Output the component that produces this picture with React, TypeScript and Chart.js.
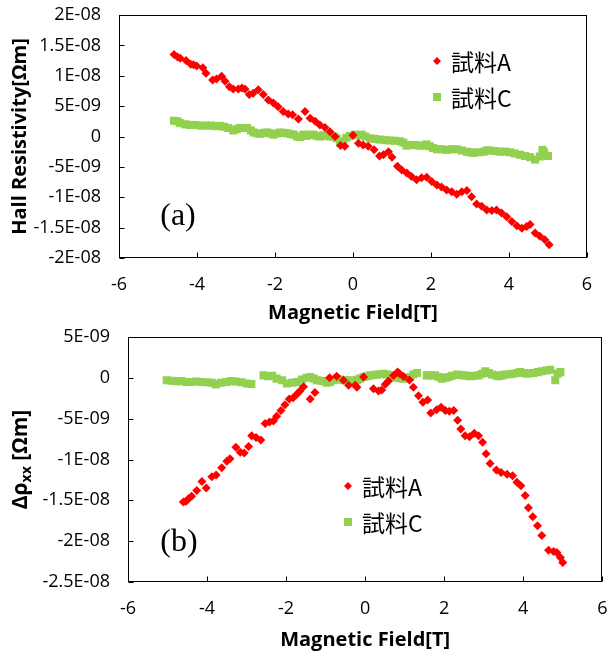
import React, { useEffect, useRef } from "react";
import { Chart, registerables } from "chart.js";

Chart.register(...registerables);

// ---------- text ----------
const X_TITLE = "Magnetic Field[T]";
const Y_TITLE_A = "Hall Resistivity[Ωm]";
const Y_TITLE_B_PARTS = ["Δρ", "xx", " [Ωm]"];
const LEGEND_LABELS = ["試料A", "試料C"];
const PANEL_LABELS = ["(a)", "(b)"];

// ---------- axes ----------
const X_MIN = -6;
const X_MAX = 6;
const X_STEP = 2;
// y values are stored in units of 1E-9 Ωm
const Y_UNIT = 1e-9;
const Y_A_MIN = -20;
const Y_A_MAX = 20;
const Y_B_MIN = -25;
const Y_B_MAX = 5;
const Y_STEP = 5;

// ---------- data (a): Hall resistivity ----------
const HALL_A_X = [
  -4.59, -4.5, -4.43, -4.28, -4.16, -4.09, -4.01, -3.85, -3.77, -3.6, -3.5, -3.37, -3.28, -3.17, -3.07,
  -2.94, -2.85, -2.77, -2.66, -2.56, -2.43, -2.3, -2.17, -2.04, -1.92, -1.79, -1.66, -1.55, -1.4, -1.23,
  -1.1, -0.97, -0.85, -0.72, -0.59, -0.46, -0.32, -0.21, 0.0, 0.14, 0.26, 0.39, 0.54, 0.68, 0.78, 0.91,
  1.0, 1.14, 1.25, 1.38, 1.5, 1.63, 1.76, 1.89, 2.02, 2.15, 2.27, 2.4, 2.53, 2.66, 2.79, 2.92, 3.04,
  3.17, 3.3, 3.43, 3.56, 3.68, 3.81, 3.94, 4.07, 4.2, 4.33, 4.45, 4.54, 4.67, 4.79, 4.92, 5.03,
];
const HALL_A_Y = [
  13.5, 13.1, 12.9, 12.5, 11.9, 11.8, 11.6, 11.3, 10.4, 9.3, 9.45, 9.9, 9.1, 8.2, 7.8,
  7.8, 8.0, 7.8, 6.9, 7.1, 7.7, 6.9, 6.0, 5.5, 4.9, 4.1, 3.7, 3.6, 2.9, 4.1,
  3.0, 2.5, 1.9, 1.5, 0.8, 0.0, -1.5, -1.6, 0.2, -1.1, -1.4, -1.6, -2.2, -3.2, -3.0, -2.5,
  -3.4, -4.9, -5.5, -6.0, -6.6, -7.1, -6.8, -6.7, -7.4, -8.0, -8.3, -8.8, -9.1, -9.5, -9.1, -8.9, -9.9,
  -11.1, -11.5, -12.1, -12.2, -12.1, -12.6, -13.2, -14.0, -14.7, -15.1, -14.8, -14.5, -15.9, -16.4, -17.0, -17.8,
];
const HALL_C_X = [
  -4.59, -4.5, -4.43, -4.3, -4.18, -4.05, -3.9, -3.77, -3.64, -3.52, -3.41, -3.3, -3.2, -3.07, -2.98,
  -2.9, -2.8, -2.72, -2.62, -2.55, -2.45, -2.38, -2.28, -2.2, -2.12, -2.04, -1.95, -1.87, -1.78, -1.7,
  -1.6, -1.52, -1.44, -1.36, -1.27, -1.19, -1.1, -1.02, -0.93, -0.85, -0.76, -0.67, -0.58, -0.5, -0.42,
  -0.33, -0.25, -0.17, -0.08, 0.05, 0.13, 0.22, 0.32, 0.44, 0.56, 0.69, 0.82, 0.95, 1.08, 1.21, 1.29,
  1.37, 1.48, 1.59, 1.7, 1.8, 1.88, 1.97, 2.05, 2.15, 2.27, 2.4, 2.53, 2.66, 2.79, 2.92, 3.0, 3.09,
  3.22, 3.35, 3.43, 3.51, 3.64, 3.77, 3.9, 4.03, 4.15, 4.28, 4.41, 4.54, 4.67, 4.79, 4.86, 4.9, 5.0,
];
const HALL_C_Y = [
  2.6, 2.5, 2.2, 2.0, 1.9, 1.9, 1.8, 1.8, 1.8, 1.7, 1.75, 1.6, 1.4, 1.0, 1.2,
  1.4, 1.4, 1.4, 1.0, 0.66, 0.5, 0.45, 0.6, 0.66, 0.5, 0.3, 0.5, 0.66, 0.6, 0.55,
  0.4, 0.3, 0.0, -0.1, 0.3, 0.1, 0.3, 0.3, 0.1, 0.0, 0.2, 0.1, 0.0, 0.0, -0.3,
  -1.0, -0.8, -0.2, 0.1, 0.3, 0.2, 0.3, 0.0, -0.3, -0.4, -0.5, -0.6, -0.66, -0.7, -0.8, -1.0,
  -1.5, -1.4, -1.4, -1.5, -1.5, -1.3, -1.6, -1.9, -2.1, -2.1, -2.2, -2.1, -2.1, -2.3, -2.5, -2.6, -2.7,
  -2.6, -2.5, -2.3, -2.3, -2.4, -2.5, -2.5, -2.6, -2.8, -3.0, -3.2, -3.4, -3.8, -3.3, -2.2, -2.6, -3.2,
];

// ---------- data (b): Δρxx ----------
const DRHO_A_X = [
  -4.6, -4.53, -4.47, -4.39, -4.26, -4.13, -4.02, -3.88, -3.77, -3.63, -3.5, -3.42, -3.27, -3.16, -3.06,
  -2.95, -2.87, -2.76, -2.64, -2.53, -2.42, -2.32, -2.24, -2.13, -2.03, -1.92, -1.82, -1.73, -1.65, -1.56,
  -1.39, -1.27, -0.9, -0.72, -0.55, -0.42, -0.25, -0.21, -0.04, 0.21, 0.34, 0.42, 0.51, 0.59, 0.72, 0.82,
  0.87, 0.97, 1.12, 1.22, 1.35, 1.46, 1.58, 1.66, 1.81, 1.92, 2.03, 2.13, 2.24, 2.34, 2.42, 2.53, 2.64,
  2.76, 2.87, 2.97, 3.06, 3.16, 3.32, 3.44, 3.59, 3.73, 3.84, 3.94, 4.05, 4.13, 4.24, 4.36, 4.47, 4.64,
  4.77, 4.85, 4.94, 5.0,
];
const DRHO_A_Y = [
  -15.2, -15.1, -14.8, -14.5, -13.8, -12.7, -13.5, -12.1, -11.9, -11.0, -10.2, -9.9, -8.5, -9.1, -9.2,
  -8.4, -7.1, -7.3, -7.6, -5.6, -5.4, -5.3, -4.7, -4.0, -3.3, -2.6, -2.45, -2.0, -1.6, -1.1,
  -2.6, -1.8, 0.0, 0.2, -0.3, -0.9, -0.9, -1.15, 0.1, -1.35, -1.6, -1.5, -0.8, -0.4, 0.3, 0.7,
  0.5, 0.15, -0.25, -1.15, -2.2, -3.0, -2.7, -4.3, -3.9, -3.6, -4.0, -4.1, -4.0, -5.2, -6.25, -7.1, -7.2,
  -6.8, -7.1, -7.9, -9.3, -10.5, -11.3, -11.6, -11.8, -12.0, -12.8, -13.2, -14.4, -15.9, -17.0, -18.1, -19.3, -21.1,
  -21.25, -21.4, -22.0, -22.6,
];
const DRHO_C_X = [
  -5.02, -4.9, -4.78, -4.65, -4.52, -4.4, -4.27, -4.14, -4.01, -3.88, -3.78, -3.65, -3.52, -3.39, -3.26,
  -3.13, -3.0, -2.88, -2.57, -2.45, -2.35, -2.24, -2.1, -1.98, -1.85, -1.73, -1.6, -1.48, -1.39, -1.3,
  -1.22, -1.13, -1.05, -0.97, -0.89, -0.8, -0.72, -0.64, -0.55, -0.47, -0.38, -0.3, -0.2, -0.13, -0.04,
  0.05, 0.13, 0.22, 0.3, 0.39, 0.47, 0.56, 0.64, 0.72, 0.8, 0.89, 0.97, 1.05, 1.14, 1.22, 1.31,
  1.56, 1.66, 1.77, 1.86, 1.94, 2.03, 2.11, 2.2, 2.32, 2.4, 2.49, 2.58, 2.66, 2.76, 2.87, 2.96, 3.04,
  3.13, 3.21, 3.3, 3.38, 3.46, 3.54, 3.65, 3.75, 3.84, 3.92, 4.01, 4.09, 4.18, 4.26, 4.37, 4.47, 4.58,
  4.68, 4.81, 4.87, 4.94,
];
const DRHO_C_Y = [
  -0.3, -0.35, -0.4, -0.4, -0.5, -0.5, -0.45, -0.5, -0.55, -0.6, -0.8, -0.6, -0.5, -0.4, -0.45,
  -0.55, -0.7, -0.75, 0.3, 0.2, 0.25, -0.1, -0.3, -0.7, -0.6, -0.5, -0.2, 0.0, 0.1, -0.1,
  -0.3, -0.35, -0.4, -0.6, -0.5, -0.3, -0.1, -0.2, -0.3, -0.3, -0.3, -0.5, -0.25, -0.1, 0.1,
  0.2, 0.3, 0.35, 0.4, 0.45, 0.5, 0.4, 0.3, 0.1, 0.0, -0.05, -0.1, 0.0, 0.1, 0.4, 0.6,
  0.3, 0.3, 0.3, 0.1, -0.1, 0.0, 0.1, 0.25, 0.4, 0.35, 0.3, 0.25, 0.2, 0.25, 0.3, 0.5, 0.8,
  0.6, 0.4, 0.3, 0.2, 0.3, 0.4, 0.45, 0.5, 0.6, 0.7, 0.6, 0.5, 0.55, 0.6, 0.7, 0.8, 0.9,
  1.0, -0.3, 0.5, 0.7,
];

// ---------- styles ----------
const RED = "#FF0000";
const GREEN = "#92D050";
const TICK_FONT = { family: "'Open Sans', sans-serif", size: 18 };
const TITLE_FONT = { family: "'Open Sans', sans-serif", size: 20, weight: "bold" as const };
const W = 608;
const H = 326;

function excelExp(v: number): string {
  const real = parseFloat((v * Y_UNIT).toPrecision(6));
  if (Math.abs(real) < 1e-15) return "0";
  const [m, e] = real.toExponential().split("e");
  const mant = parseFloat(parseFloat(m).toPrecision(6)).toString();
  const exp = parseInt(e, 10);
  const sign = exp < 0 ? "-" : "+";
  return `${mant}E${sign}${String(Math.abs(exp)).padStart(2, "0")}`;
}

function toPoints(xs: number[], ys: number[]) {
  return xs.map((x, i) => ({ x, y: ys[i] }));
}

function drawDiamond(ctx: CanvasRenderingContext2D, x: number, y: number, r: number, color: string) {
  ctx.beginPath();
  ctx.moveTo(x - r, y);
  ctx.lineTo(x, y - r);
  ctx.lineTo(x + r, y);
  ctx.lineTo(x, y + r);
  ctx.closePath();
  ctx.fillStyle = color;
  ctx.fill();
}

function drawSquare(ctx: CanvasRenderingContext2D, x: number, y: number, half: number, color: string) {
  ctx.fillStyle = color;
  ctx.fillRect(x - half, y - half, half * 2, half * 2);
}

const decorPlugin = {
  id: "decor",
  beforeDatasetsDraw(chart: any) {
    const { ctx, chartArea } = chart;
    const xs = chart.scales.x;
    const ys = chart.scales.y;
    ctx.save();
    ctx.strokeStyle = "#000";
    ctx.lineWidth = 1;
    const l = Math.round(chartArea.left) + 0.5;
    const t = Math.round(chartArea.top) + 0.5;
    const r = Math.round(chartArea.right) - 0.5;
    const b = Math.round(chartArea.bottom) - 0.5;
    ctx.strokeRect(l, t, r - l, b - t);
    ctx.beginPath();
    for (const tk of xs.ticks) {
      const px = Math.round(xs.getPixelForValue(tk.value)) + 0.5;
      ctx.moveTo(px, b);
      ctx.lineTo(px, b - 5);
    }
    for (const tk of ys.ticks) {
      const py = Math.round(ys.getPixelForValue(tk.value)) + 0.5;
      ctx.moveTo(l, py);
      ctx.lineTo(l + 5, py);
    }
    ctx.stroke();
    ctx.restore();
  },
  afterDraw(chart: any, _args: any, opts: any) {
    const { ctx, chartArea } = chart;
    ctx.save();
    // panel label
    ctx.fillStyle = "#000";
    ctx.font = "32px 'Liberation Serif', serif";
    ctx.textAlign = "center";
    ctx.textBaseline = "middle";
    ctx.fillText(opts.panelLabel, opts.panelX, opts.panelY);
    // legend
    ctx.font = "23px 'Noto Sans CJK JP', sans-serif";
    ctx.textAlign = "left";
    ctx.textBaseline = "middle";
    drawDiamond(ctx, opts.legendX, opts.legendY, 4, RED);
    drawSquare(ctx, opts.legendX, opts.legendY + opts.legendGap, 4, GREEN);
    ctx.fillStyle = "#000";
    ctx.fillText(LEGEND_LABELS[0], opts.legendTextX, opts.legendY + 1);
    ctx.fillText(LEGEND_LABELS[1], opts.legendTextX, opts.legendY + opts.legendGap + 1);
    // subscripted y title
    if (opts.customYTitle) {
      const cy = (chartArea.top + chartArea.bottom) / 2;
      ctx.translate(opts.yTitleX, cy);
      ctx.rotate(-Math.PI / 2);
      const big = "bold 21px 'Open Sans', sans-serif";
      const small = "bold 14px 'Open Sans', sans-serif";
      ctx.font = big;
      const w1 = ctx.measureText(Y_TITLE_B_PARTS[0]).width;
      const w3 = ctx.measureText(Y_TITLE_B_PARTS[2]).width;
      ctx.font = small;
      const w2 = ctx.measureText(Y_TITLE_B_PARTS[1]).width;
      let x = -(w1 + w2 + w3) / 2;
      ctx.textBaseline = "alphabetic";
      ctx.font = big;
      ctx.fillText(Y_TITLE_B_PARTS[0], x, 7);
      x += w1;
      ctx.font = small;
      ctx.fillText(Y_TITLE_B_PARTS[1], x, 11);
      x += w2;
      ctx.font = big;
      ctx.fillText(Y_TITLE_B_PARTS[2], x, 7);
    }
    ctx.restore();
  },
};

function makeConfig(
  datasets: any[],
  yMin: number,
  yMax: number,
  pad: { top: number; right: number },
  yWidth: number,
  xHeight: number,
  yTitle: string | null,
  xTitlePadBottom: number,
  decor: any
): any {
  return {
    type: "scatter",
    data: { datasets },
    plugins: [decorPlugin],
    options: {
      responsive: false,
      animation: false,
      events: [],
      layout: { padding: { top: pad.top, right: pad.right, bottom: 0, left: 0 } },
      plugins: {
        legend: { display: false },
        tooltip: { enabled: false },
        decor,
      },
      scales: {
        x: {
          type: "linear",
          min: X_MIN,
          max: X_MAX,
          grid: { display: false, drawTicks: false },
          border: { display: false },
          ticks: { stepSize: X_STEP, color: "#000", font: TICK_FONT, padding: 16, maxRotation: 0 },
          title: {
            display: true,
            text: X_TITLE,
            color: "#000",
            font: TITLE_FONT,
            padding: { top: 0, bottom: xTitlePadBottom },
          },
          afterFit: (s: any) => {
            s.height = xHeight;
            s.paddingLeft = 0;
            s.paddingRight = 0;
          },
        },
        y: {
          type: "linear",
          min: yMin,
          max: yMax,
          grid: { display: false, drawTicks: false },
          border: { display: false },
          ticks: {
            stepSize: Y_STEP,
            color: "#000",
            font: TICK_FONT,
            padding: 18,
            callback: (v: any) => excelExp(Number(v)),
          },
          title: {
            display: !!yTitle,
            text: yTitle || "",
            color: "#000",
            font: TITLE_FONT,
            padding: { top: 8, bottom: 0 },
          },
          afterFit: (s: any) => {
            s.width = yWidth;
            s.paddingTop = 0;
            s.paddingBottom = 0;
          },
        },
      },
    },
  };
}

function seriesA(xs: number[], ys: number[]) {
  return {
    label: LEGEND_LABELS[0],
    data: toPoints(xs, ys),
    pointStyle: "rectRot",
    pointRadius: 4.5,
    pointBackgroundColor: RED,
    pointBorderColor: RED,
    pointBorderWidth: 0,
    showLine: false,
  };
}

function seriesC(xs: number[], ys: number[]) {
  return {
    label: LEGEND_LABELS[1],
    data: toPoints(xs, ys),
    pointStyle: "rect",
    pointRadius: 5.7,
    pointBackgroundColor: GREEN,
    pointBorderColor: GREEN,
    pointBorderWidth: 0,
    showLine: false,
  };
}

export default function App() {
  const refA = useRef<HTMLCanvasElement>(null);
  const refB = useRef<HTMLCanvasElement>(null);

  useEffect(() => {
    const chartA = new Chart(
      refA.current as HTMLCanvasElement,
      makeConfig(
        [seriesA(HALL_A_X, HALL_A_Y), seriesC(HALL_C_X, HALL_C_Y)],
        Y_A_MIN,
        Y_A_MAX,
        { top: 15, right: 21 },
        119,
        68,
        Y_TITLE_A,
        1,
        {
          panelLabel: PANEL_LABELS[0],
          panelX: 178,
          panelY: 217,
          legendX: 437,
          legendY: 61,
          legendGap: 36,
          legendTextX: 451,
          customYTitle: false,
        }
      )
    );
    const chartB = new Chart(
      refB.current as HTMLCanvasElement,
      makeConfig(
        [seriesA(DRHO_A_X, DRHO_A_Y), seriesC(DRHO_C_X, DRHO_C_Y)],
        Y_B_MIN,
        Y_B_MAX,
        { top: 11, right: 5 },
        128,
        70,
        null,
        0,
        {
          panelLabel: PANEL_LABELS[1],
          panelX: 179,
          panelY: 217,
          legendX: 348,
          legendY: 160,
          legendGap: 36,
          legendTextX: 362,
          customYTitle: true,
          yTitleX: 20,
        }
      )
    );
    return () => {
      chartA.destroy();
      chartB.destroy();
    };
  }, []);

  return (
    <div style={{ position: "absolute", left: 0, top: 0, width: W, height: H * 2, background: "#fff" }}>
      <canvas ref={refA} width={W} height={H} style={{ position: "absolute", left: 0, top: 0, width: W, height: H }} />
      <canvas ref={refB} width={W} height={H} style={{ position: "absolute", left: 0, top: H, width: W, height: H }} />
    </div>
  );
}
